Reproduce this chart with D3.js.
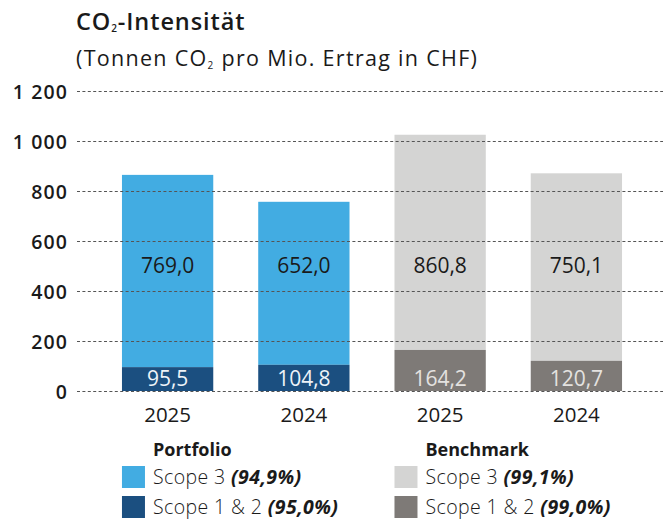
<!DOCTYPE html>
<html>
<head>
<meta charset="utf-8">
<script src="https://cdn.jsdelivr.net/npm/d3@7"></script>
<style>
  body { margin: 0; background: #fff; }
  svg text { font-family: "Open Sans", Lato, sans-serif; fill: #1a1a1a; }
</style>
</head>
<body>
<div id="chart"></div>
<script>
//categories (bars)
const barKeys = ["p2025", "p2024", "b2025", "b2024"];
const barYears = ["2025", "2024", "2025", "2024"];
const barGroup = ["Portfolio", "Portfolio", "Benchmark", "Benchmark"];
//series values
const scope12 = [95.5, 104.8, 164.2, 120.7];
const scope3 = [769.0, 652.0, 860.8, 750.1];
//y ticks
const yTicks = [0, 200, 400, 600, 800, 1000, 1200];
//legend
const legendGroups = ["Portfolio", "Benchmark"];
const legendScope3Pct = ["(94,9%)", "(99,1%)"];
const legendScope12Pct = ["(95,0%)", "(99,0%)"];

const colors = {
    Portfolio: { s3: "#42ace2", s12: "#1b4f80", s12Text: "#eef3f8" },
    Benchmark: { s3: "#d4d4d3", s12: "#7e7a77", s12Text: "#e4e2e0" },
};

const width = 670;
const height = 519;
const font = "'Open Sans', Lato, sans-serif";

const svg = d3.select("#chart").append("svg")
    .attr("width", width)
    .attr("height", height);

//scales
const x = d3.scaleBand()
    .domain(barKeys)
    .range([77, 667])
    .paddingInner(0.33)
    .paddingOuter(0.33);

const y = d3.scaleLinear()
    .domain([0, 1200])
    .range([391, 91]);

const fmt = (v) => v.toFixed(1).replace(".", ",");
const fmtTick = (v) => d3.format(",")(v).replace(",", " ");

//title
const title = svg.append("text")
    .attr("x", 76).attr("y", 30)
    .attr("font-size", 23.5).attr("font-weight", 600)
    .attr("letter-spacing", 0.9);
title.append("tspan").text("CO");
title.append("tspan").text("2").attr("font-size", 10).attr("dy", 2);
title.append("tspan").text("-Intensität").attr("dy", -2);

const sub = svg.append("text")
    .attr("x", 76).attr("y", 66)
    .attr("font-size", 21.5)
    .attr("letter-spacing", 1.3);
sub.append("tspan").text("(Tonnen CO");
sub.append("tspan").text("2").attr("font-size", 10).attr("dy", 3);
sub.append("tspan").text(" pro Mio. Ertrag in CHF)").attr("dy", -3);

//bars
const data = barKeys.map((key, i) => ({
    key,
    year: barYears[i],
    group: barGroup[i],
    s12: scope12[i],
    s3: scope3[i],
}));

const bar = svg.selectAll("g.bar").data(data).join("g").attr("class", "bar");

bar.append("rect")
    .attr("x", (d) => x(d.key))
    .attr("width", x.bandwidth())
    .attr("y", (d) => y(d.s12 + d.s3))
    .attr("height", (d) => y(d.s12) - y(d.s12 + d.s3))
    .attr("fill", (d) => colors[d.group].s3);

bar.append("rect")
    .attr("x", (d) => x(d.key))
    .attr("width", x.bandwidth())
    .attr("y", (d) => y(d.s12))
    .attr("height", (d) => y(0) - y(d.s12))
    .attr("fill", (d) => colors[d.group].s12);

//grid lines on top of bars
const yAxis = d3.axisLeft(y)
    .tickValues(yTicks)
    .tickSize(-(663 - 77))
    .tickFormat(fmtTick)
    .tickPadding(9);

const yAxisG = svg.append("g")
    .attr("transform", "translate(77,0)")
    .call(yAxis);
yAxisG.select(".domain").remove();
yAxisG.selectAll(".tick line")
    .attr("stroke", "#555")
    .attr("stroke-width", 1.2)
    .attr("stroke-dasharray", "3,2.4");
yAxisG.selectAll(".tick text")
    .attr("font-size", 19.5)
    .attr("font-weight", 600)
    .attr("letter-spacing", 1.1)
    .attr("font-family", font)
    .attr("dy", "0.36em")
    .attr("fill", "#1a1a1a");

//value labels
bar.append("text")
    .attr("x", (d) => x(d.key) + x.bandwidth() / 2)
    .attr("y", y(500))
    .attr("dy", "0.35em")
    .attr("text-anchor", "middle")
    .attr("font-size", 21)
    .text((d) => fmt(d.s3));

bar.append("text")
    .attr("x", (d) => x(d.key) + x.bandwidth() / 2)
    .attr("y", y(0) - 5)
    .attr("text-anchor", "middle")
    .attr("font-size", 21)
    .style("fill", (d) => colors[d.group].s12Text)
    .text((d) => fmt(d.s12));

//x axis labels
const xAxis = d3.axisBottom(x)
    .tickSize(0)
    .tickPadding(16)
    .tickFormat((k) => barYears[barKeys.indexOf(k)]);

const xAxisG = svg.append("g")
    .attr("transform", `translate(0,${y(0)})`)
    .call(xAxis);
xAxisG.select(".domain").remove();
xAxisG.selectAll(".tick text")
    .attr("font-size", 20.5)
    .attr("font-family", font)
    .attr("fill", "#1a1a1a");

//legend
legendGroups.forEach((group, i) => {
    const x0 = x(barKeys[i * 2]);
    const g = svg.append("g").attr("transform", `translate(${x0},0)`);

    g.append("text")
        .attr("x", 31).attr("y", 456)
        .attr("font-size", 18)
        .attr("font-weight", 700)
        .text(group);

    const rows = [
        { color: colors[group].s3, label: "Scope 3 ", pct: legendScope3Pct[i] },
        { color: colors[group].s12, label: "Scope 1 & 2 ", pct: legendScope12Pct[i] },
    ];

    rows.forEach((r, j) => {
        const top = 466 + j * 30;
        g.append("rect")
            .attr("x", 0).attr("y", top)
            .attr("width", 23).attr("height", 22)
            .attr("fill", r.color);
        const t = g.append("text")
            .attr("x", 31).attr("y", top + 18)
            .attr("font-size", 19.5)
            .attr("letter-spacing", 0.4);
        t.append("tspan").attr("font-weight", 300).text(r.label);
        t.append("tspan")
            .attr("font-weight", 700)
            .attr("font-style", "italic")
            .text(r.pct);
    });
});
</script>
</body>
</html>
